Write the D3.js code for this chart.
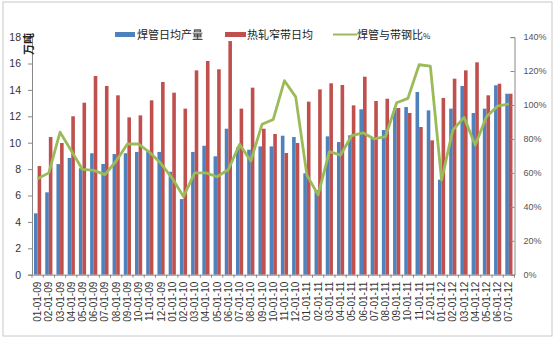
<!DOCTYPE html>
<html><head><meta charset="utf-8">
<script src="https://cdn.jsdelivr.net/npm/d3@7"></script>
<style>body{margin:0;background:#fff}svg{display:block}</style>
</head><body>
<svg id="c" width="557" height="345"></svg>
<script>
const categories = ["01-01-09","02-01-09","03-01-09","04-01-09","05-01-09","06-01-09","07-01-09","08-01-09","09-01-09","10-01-09","11-01-09","12-01-09",
"01-01-10","02-01-10","03-01-10","04-01-10","05-01-10","06-01-10","07-01-10","08-01-10","09-01-10","10-01-10","11-01-10","12-01-10",
"01-01-11","02-01-11","03-01-11","04-01-11","05-01-11","06-01-11","07-01-11","08-01-11","09-01-11","10-01-11","11-01-11","12-01-11",
"01-01-12","02-01-12","03-01-12","04-01-12","05-01-12","06-01-12","07-01-12"];
const weldedPipe = [4.65,6.24,8.38,8.84,8.06,9.2,8.39,9.14,9.2,9.3,9.4,9.3,
7.8,5.73,9.3,9.77,8.97,11.06,9.65,9.47,9.72,9.72,10.53,10.43,
7.68,6.42,10.48,10.05,10.56,12.53,10.4,10.96,12.63,12.7,13.84,12.45,
7.2,12.58,14.3,12.25,12.58,14.35,13.71];
const hotStrip = [8.23,10.43,9.98,12.0,13.03,15.05,14.3,13.59,11.92,12.07,13.21,14.6,
13.79,12.58,15.48,16.19,15.56,17.7,12.58,14.17,11.06,10.66,9.22,9.98,
13.11,14.04,14.5,14.37,12.83,15.0,13.16,13.33,12.63,12.25,11.19,10.18,
13.39,14.85,15.48,16.09,13.59,14.47,13.71];
const ratio = [56.5,60,84,73,62,61.5,59,67,77,77,72,65.5,
56.8,46,60,60,57.7,62,76.8,67,88.6,91.5,114.3,104.8,
58.7,47,72.5,70.5,82,83.6,80,81.3,101.3,103.9,123.7,122.9,
55.8,85.2,92.7,76.4,93,99.4,100.6];
const leftTicks = [0,2,4,6,8,10,12,14,16,18];
const rightTicks = [0,20,40,60,80,100,120,140];
const seriesNames = ["焊管日均产量","热轧窄带日均","焊管与带钢比"];
const unitLabel = "万吨";

const BLUE="#4F81BD", RED="#C0504D", GREEN="#9BBB59";
const svg = d3.select("#c");
const L=32, R=514.5, B=274.7, T=37.1;

// chart frame
svg.append("rect").attr("x",3).attr("y",2).attr("width",549).attr("height",334)
  .attr("fill","#fff").attr("stroke","#c8c8c8").attr("stroke-width",1);

const x = d3.scaleBand().domain(categories).range([L,R]).padding(0);
const yL = d3.scaleLinear().domain([0,18]).range([B,T]);
const yR = d3.scaleLinear().domain([0,140]).range([B,T]);
const bw = 3.6;

// bars
svg.append("g").selectAll("rect").data(categories).join("rect")
  .attr("x",d=>x(d)+x.bandwidth()/2-bw).attr("width",bw)
  .attr("y",(d,i)=>yL(weldedPipe[i])).attr("height",(d,i)=>B-yL(weldedPipe[i]))
  .attr("fill",BLUE);
svg.append("g").selectAll("rect").data(categories).join("rect")
  .attr("x",d=>x(d)+x.bandwidth()/2).attr("width",bw)
  .attr("y",(d,i)=>yL(hotStrip[i])).attr("height",(d,i)=>B-yL(hotStrip[i]))
  .attr("fill",RED);

// axes
const font = "'Liberation Sans', Arial, sans-serif";
const gl = svg.append("g").attr("transform",`translate(${L},0)`)
  .call(d3.axisLeft(yL).tickValues(leftTicks).tickSize(4).tickPadding(7).tickFormat(d3.format("d")));
gl.selectAll("text").attr("font-family",font).attr("font-size",10.5).attr("fill","#333");
const gr = svg.append("g").attr("transform",`translate(${R},0)`)
  .call(d3.axisRight(yR).tickValues(rightTicks).tickSize(-4).tickPadding(9).tickFormat(d=>d+"%"));
gr.selectAll("text").attr("font-family",font).attr("font-size",9).attr("fill","#555");
const gb = svg.append("g").attr("transform",`translate(0,${B})`)
  .call(d3.axisBottom(x).tickSize(0).tickPadding(0));
gb.selectAll("text").attr("font-family",font).attr("font-size",10).attr("fill","#333")
  .attr("transform","rotate(-90)").attr("text-anchor","end").attr("dx","-0.7em").attr("dy","0.35em");
// category boundary ticks
svg.append("g").selectAll("line").data(categories.concat(["__end"])).join("line")
  .attr("x1",(d,i)=>L+i*x.bandwidth()).attr("x2",(d,i)=>L+i*x.bandwidth())
  .attr("y1",B).attr("y2",B+3).attr("stroke","#888");
[gl,gr,gb].forEach(g=>{g.selectAll(".domain").attr("stroke","#888");g.selectAll(".tick line").attr("stroke","#888");});

// unit label
svg.append("text").attr("transform","translate(33,44) rotate(-90)")
  .attr("text-anchor","middle").attr("font-family","'Noto Sans CJK SC'").attr("font-size",11)
  .attr("font-weight","bold").attr("fill","#222").text(unitLabel);

// ratio line
const line = d3.line().x((d,i)=>x(categories[i])+x.bandwidth()/2).y(d=>yR(d));
svg.append("path").datum(ratio).attr("d",line).attr("fill","none")
  .attr("stroke",GREEN).attr("stroke-width",2.8).attr("stroke-linejoin","round");

// legend
const lg = svg.append("g").attr("font-family","'Noto Sans CJK SC'").attr("font-size",11).attr("fill","#222");
lg.append("rect").attr("x",115).attr("y",32).attr("width",20).attr("height",5).attr("fill",BLUE);
lg.append("text").attr("x",137).attr("y",39).text(seriesNames[0]);
lg.append("rect").attr("x",225).attr("y",32).attr("width",21).attr("height",5).attr("fill",RED);
lg.append("text").attr("x",247).attr("y",39).text(seriesNames[1]);
lg.append("line").attr("x1",333).attr("x2",357).attr("y1",34.5).attr("y2",34.5).attr("stroke",GREEN).attr("stroke-width",2);
const t3 = lg.append("text").attr("x",357).attr("y",39).text(seriesNames[2]);
t3.append("tspan").attr("font-size",8).text("%");
</script>
</body></html>
